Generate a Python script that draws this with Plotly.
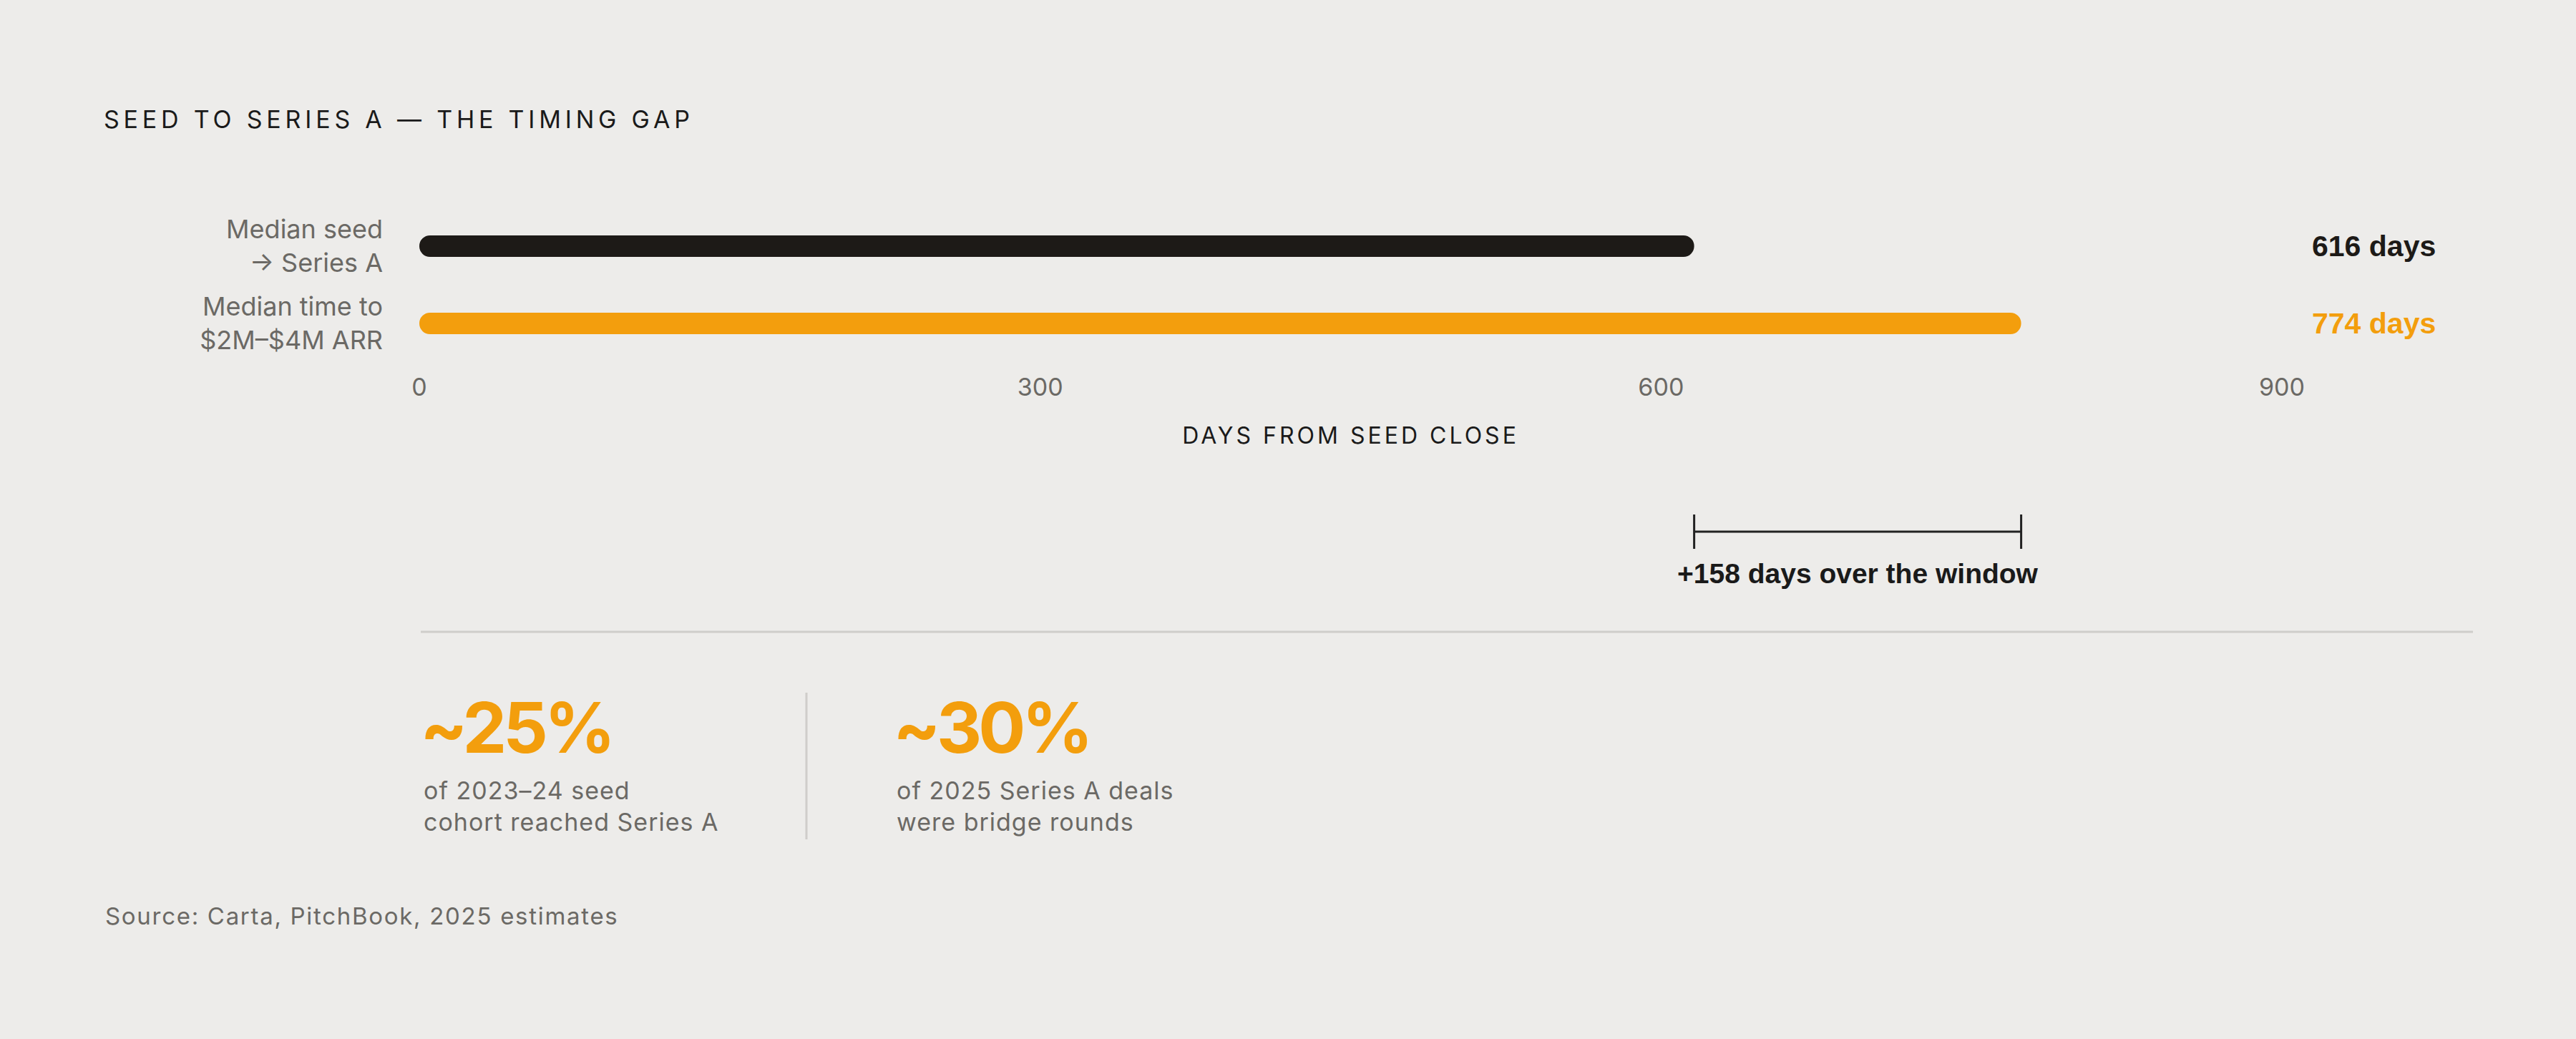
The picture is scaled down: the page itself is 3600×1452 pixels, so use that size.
import plotly.graph_objects as go

# data
categories = ["Median seed<br>→ Series A", "Median time to<br>$2M–$4M ARR"]
days = [616, 774]
bar_colors = ["#1D1A17", "#F39E0D"]
stat_values = ["~25%", "~30%"]
stat_notes = ["of 2023–24 seed<br>cohort reached Series A",
              "of 2025 Series A deals<br>were bridge rounds"]
axis_ticks = [0, 300, 600, 900]

BG = "#EDECEA"
GREY = "#6B6965"
RULE = "#CFCDCA"
SANS = "Inter"
BOLD = "Liberation Sans"

# canvas (pixels)
W, H = 3600, 1452
L, R, T, B = 586, 411, 290, 946


def px(x):
    return (x - L) / (W - L - R)


def py(y):
    return 1 - (y - T) / (H - T - B)


fig = go.Figure()

# bar drawn from the value back to zero (floating base)
fig.add_trace(go.Bar(
    x=[-d for d in days], base=days, y=categories, orientation="h", width=0.28,
    marker=dict(color=bar_colors, cornerradius=15, line=dict(width=0)),
    customdata=days, hovertemplate="%{y}: %{customdata} days<extra></extra>",
    showlegend=False,
))

# value labels at the right
for cat, d, c in zip(categories, days, bar_colors):
    fig.add_annotation(
        x=px(3229), xref="paper", xanchor="left",
        y=cat, yref="y", yanchor="middle",
        text=f"{d} days", showarrow=False,
        font=dict(family=BOLD, size=41, color=c, weight=700),
    )

# bracket marking the gap between the two bars
gap = days[1] - days[0]
bracket_y = py(743)
fig.add_shape(type="line", xref="x", yref="paper",
              x0=days[0], x1=days[1], y0=bracket_y, y1=bracket_y,
              line=dict(color="#222", width=3))
for d in days:
    fig.add_shape(type="line", xref="x", yref="paper",
                  x0=d, x1=d, y0=py(719), y1=py(767),
                  line=dict(color="#222", width=3))
fig.add_annotation(
    x=(days[0] + days[1]) / 2, xref="x", xanchor="center",
    y=py(801), yref="paper", yanchor="middle",
    text=f"+{gap} days over the window", showarrow=False,
    font=dict(family=BOLD, size=39, color="#1A1A1A", weight=700),
)

# horizontal rule
fig.add_shape(type="line", xref="paper", yref="paper",
              x0=px(588), x1=px(3456), y0=py(883), y1=py(883),
              line=dict(color=RULE, width=3))

# stat blocks
stat_x = [585, 1246]
for sx, val, note in zip(stat_x, stat_values, stat_notes):
    fig.add_annotation(
        x=px(sx), xref="paper", xanchor="left",
        y=py(1016), yref="paper", yanchor="middle",
        text=f'<span style="letter-spacing:-5px">{val}</span>', showarrow=False,
        font=dict(family=SANS, size=98, color="#F39E0D", weight=700),
    )
    lines = note.split("<br>")
    fig.add_annotation(
        x=px(sx + 5), xref="paper", xanchor="left", align="left",
        y=py(1126), yref="paper", yanchor="middle",
        text="<br>".join(f'<span style="letter-spacing:1px">{ln}</span>' for ln in lines),
        showarrow=False,
        font=dict(family=SANS, size=34, color=GREY),
    )

# vertical divider between stats
fig.add_shape(type="line", xref="paper", yref="paper",
              x0=px(1127), x1=px(1127), y0=py(968), y1=py(1173),
              line=dict(color=RULE, width=3))

# source
fig.add_annotation(
    x=px(145), xref="paper", xanchor="left",
    y=py(1280), yref="paper", yanchor="middle",
    text='<span style="letter-spacing:1.7px">Source: Carta, PitchBook, 2025 estimates</span>',
    showarrow=False,
    font=dict(family=SANS, size=33, color=GREY),
)

fig.update_layout(
    width=W, height=H,
    margin=dict(l=L, r=R, t=T, b=B, autoexpand=False),
    paper_bgcolor=BG, plot_bgcolor=BG,
    barmode="overlay",
    title=dict(
        text='<span style="letter-spacing:5.8px">SEED TO SERIES A — THE TIMING GAP</span>',
        x=145 / W, xref="container", xanchor="left",
        y=1 - 167 / H, yref="container", yanchor="middle",
        font=dict(family=SANS, size=34, color="#1A1A1A"),
    ),
    xaxis=dict(
        range=[0, 900],
        tickvals=axis_ticks,
        showgrid=False, zeroline=False, showline=False,
        tickfont=dict(family=SANS, size=34, color=GREY),
        ticklabelstandoff=12,
        title=dict(
            text='<span style="letter-spacing:4px">DAYS FROM SEED CLOSE</span>',
            font=dict(family=SANS, size=32, color="#1A1A1A"),
            standoff=37,
        ),
        fixedrange=True,
    ),
    yaxis=dict(
        type="category",
        categoryarray=categories,
        autorange="reversed",
        showgrid=False, zeroline=False, showline=False,
        tickfont=dict(family=SANS, size=36, color=GREY),
        ticklabelstandoff=50,
        fixedrange=True,
    ),
)

fig.write_html("out.html", config={"displayModeBar": False},
               post_script="document.body.style.margin='0';")
